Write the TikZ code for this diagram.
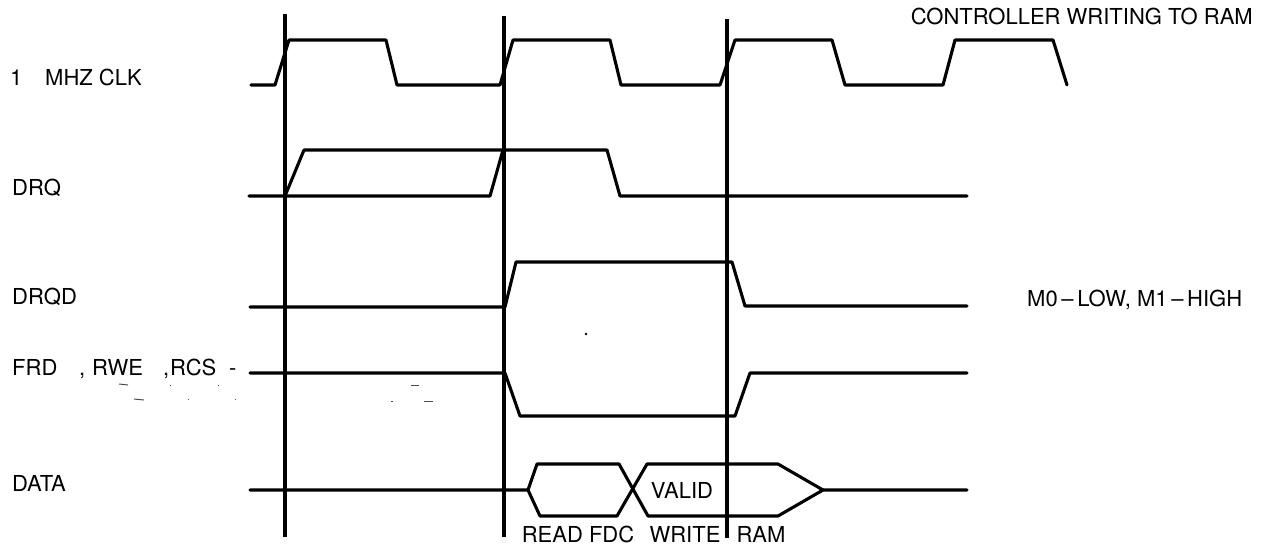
\documentclass[tikz,border=0pt]{standalone}
\usepackage{fontspec}
\setmainfont{TeX Gyre Heros}
\begin{document}
\begin{tikzpicture}[x=1pt,y=-1pt,
  wave/.style={line width=3.1pt, line join=round, line cap=round},
  refline/.style={line width=3.2pt},
  speck/.style={line width=1pt, black!70},
  lbl/.style={anchor=base west, inner sep=0pt, font=\fontsize{22}{26}\selectfont},
  lblr/.style={anchor=base east, inner sep=0pt, font=\fontsize{22}{26}\selectfont},
  lblc/.style={anchor=base, inner sep=0pt, font=\fontsize{22}{26}\selectfont}]
\useasboundingbox (0,0) rectangle (1268,549);

% signal names
\node[lbl] (one) at (10,85) {1};
\node[lbl] (clk) at (45,85) {MHZ CLK};
\node[lbl] (drq) at (12,195) {DRQ};
\node[lbl] (drqd) at (12,304) {DRQD};
\node[lbl] (frd) at (12,375) {FRD};
\node[lbl] (c1) at (79,375) {,};
\node[lbl] (rwe) at (92,375) {RWE};
\node[lbl] (c2) at (163,375) {,};
\node[lbl] (rcs) at (170,375) {RCS};
\node[lbl] (dsh) at (229,375) {-};
\node[lbl] (data) at (12,491) {DATA};

% notes
\node[lblr] (title) at (1253,24) {CONTROLLER WRITING TO RAM};
\node[lbl] (mode) at (1027,306) {M0\,–\,LOW, M1\,–\,HIGH};
\node[lblc] (valid) at (682,498) {VALID};
\node[lblc] (rfdc) at (578,542) {READ FDC};
\node[lblc] (wr) at (685,542) {WRITE};
\node[lblc] (ram) at (761,542) {RAM};

% vertical reference lines
\draw[refline] (285,14) -- (285,537);
\draw[refline] (504,16) -- (504,537);
\draw[refline] (727,19) -- (727,538);

% 1 MHz clock
\draw[wave] (251,85) -- (275,85) -- (289,40) -- (386,40) -- (397,85) -- (500,85)
  -- (513,40) -- (610,40) -- (621,85) -- (720,85) -- (735,40) -- (832,40)
  -- (845,85) -- (943,85) -- (955,40) -- (1053,40) -- (1067,85);

% DRQ
\draw[wave] (249,196) -- (490,196) -- (503,150);
\draw[wave] (285,196) -- (304,150) -- (607,150) -- (620,196) -- (967,196);

% DRQD
\draw[wave] (250,307) -- (505,307) -- (516,262) -- (732,262) -- (745,306) -- (967,306);

% FRD, RWE, RCS
\draw[wave] (250,373) -- (505,373) -- (520,416) -- (735,416) -- (750,373) -- (967,373);

% DATA
\draw[wave] (250,490) -- (528,490) -- (537,464) -- (619,464) -- (648,516) -- (778,516)
  -- (823,490) -- (967,490);
\draw[wave] (528,490) -- (540,516) -- (617,516) -- (647,464) -- (778,464) -- (823,490);

% faint remains of overbars
\draw[speck] (119,384) -- (128,385);
\draw[speck] (170,385) -- (171,385);
\draw[speck] (218,385) -- (219,385);
\draw[speck] (134,399) -- (144,400);
\draw[speck] (188,399) -- (189,399);
\draw[speck] (235,399) -- (236,399);
\draw[speck] (411,385) -- (419,385);
\draw[speck] (391,401) -- (393,401);
\draw[speck] (424,401) -- (433,401);
\fill (586,334) circle (1.3);
\end{tikzpicture}
\end{document}
